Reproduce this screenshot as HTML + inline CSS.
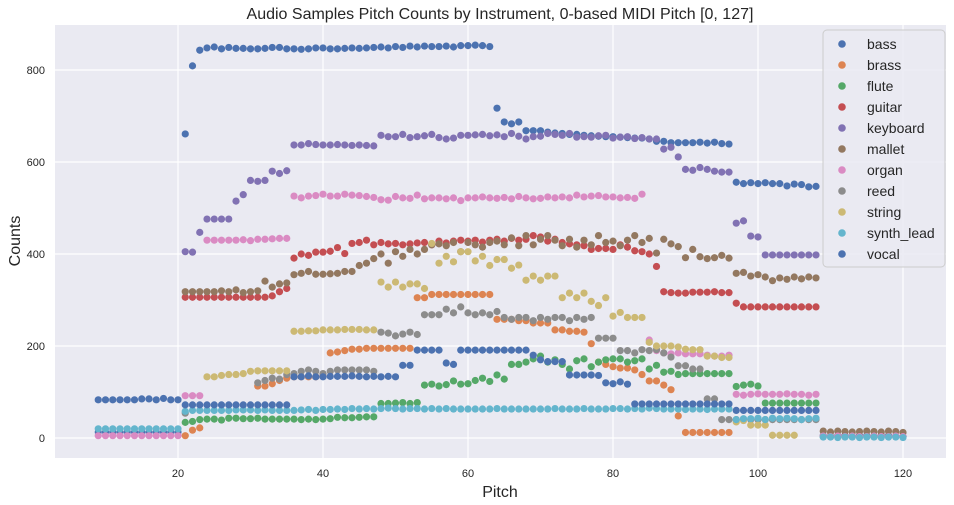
<!DOCTYPE html>
<html><head><meta charset="utf-8"><style>
body{margin:0;background:#fff;}
svg{display:block;font-family:"Liberation Sans",sans-serif;}
</style></head><body>
<svg id="chart" width="954" height="505">
<rect x="55" y="25" width="891" height="433" fill="#EAEAF2"/>
<g id="grid"></g>
<g id="ticks"></g>
<g id="marks"></g>
<text x="500" y="19" text-anchor="middle" font-size="16" fill="#262626">Audio Samples Pitch Counts by Instrument, 0-based MIDI Pitch [0, 127]</text>
<text x="500" y="497" text-anchor="middle" font-size="16" fill="#262626">Pitch</text>
<text x="20" y="241" text-anchor="middle" font-size="16" fill="#262626" transform="rotate(-90 20 241)">Counts</text>
<g id="legend"></g>
</svg>
<script>
const xTicks=[20,40,60,80,100,120];
const yTicks=[0,200,400,600,800];
const names=["bass","brass","flute","guitar","keyboard","mallet","organ","reed","string","synth_lead","vocal"];
const colors=["#4C72B0","#DD8452","#55A868","#C44E52","#8172B3","#937860","#DA8BC3","#8C8C8C","#CCB974","#64B5CD","#4C72B0"];
const bass=[[9,[13,13,13,13,13,13,13,13,13,13,13,13]],[21,[661,809,843]],[24,[848,850,846,849,847,847,846,846,847,849,849,846,846,845,846,848,848,846,846,847,848,847,848,849,850,848,851,849,852,850,852,851,851,852,850,853,853,854,853,851]],[64,[717,687,683,687,668,668,668,665,663,662,660,660,658,657,656,655,655,654,653,652,652]],[85,[650,645,645,642,642,642,642,643,641,643,640,639]],[97,[556,553,555,553,555,553,553,548,552,551,546,547]],[109,[5,4,5,5,4,5,5,4,5,5,4,3]]];
const brass=[[21,[5,17,22]],[31,[113,113,118,125,130,133,133,133,133,135]],[41,[185,187,190,193,193,195,195,195,195,195,195,195]],[53,[305,305,312,312,312,312,312,312,312,312,312]],[64,[258,258,258,255,255,250,250,250,235,235,232,232,230,205]],[78,[165,160,155,152,152,148,138,124,124,115,105,48]],[90,[12,12,12,12,12,12,12]]];
const flute=[[21,[34,36,40,41,41,39,43,43,42,42,43,41,41,41,41]],[36,[41,40,41,40,41,42,45,44,44,45,46,46]],[48,[75,75,76,77,75,77,115,117,113,116,124,117,118,125,130,123,137,128]],[66,[160,160,165,172,178,165,170,160,150,168,172,155,165,170,172,172,165,168,172]],[85,[150,158,143,145,138,140,140,140,140,140,140,140]],[97,[112,115,117,113,76,76,76,76,76,76,76,76]],[109,[3,3,3,3,3,3,3,3,3,3,3,3]]];
const guitar=[[21,[306,306,306,306,306,306,306,306,306,306,306,306,309,318,325]],[36,[391,400,397,404,404,406,414,401,423,425,430,420]],[48,[425,422,423,420,422,424,425,420,428,424,428,430,428,430,426,430,432,428,434,430,432,440,437,428,432,425,422,420,418,410,412,412,410,420,415,407,405]],[85,[400,373,318,316,315,315,317,317,317,318,316,316]],[97,[293,285,285,285,285,285,285,285,285,285,285,285]]];
const keyboard=[[21,[405,404,447,476,476,476,476,515,529,560,558,560,580,575,581]],[36,[637,637,640,638,637,637,638,637,636,637,636,635]],[48,[658,655,655,660,653,655,657,660,653,650,652,658,658,659,660,657,659,655,662,656,650,655,656,662,660,658,662,654,655,654,657,658,652,654,655,651,653,650,650]],[87,[628,632,611,584,582,588,584,580,578,578]],[97,[467,472,439,437,398,398,398,398,398,398,398,398]]];
const mallet=[[21,[318,318,318,318,318,320,318,322,316,318,320,341,328,335,337]],[36,[355,358,362,356,356,357,358,362,362,375,380,390]],[48,[400,380,405,395,410,400,410,420,422,418,425,405,425,420,415,425,428,420,435,418,440,420,432,440,430,418,432,415,430,420,440,425,428,418,430,440,425]],[85,[434,402,432,422,416,392,410,394,390,392,397,391]],[97,[358,360,352,355,350,342,348,345,350,346,350,348]],[109,[15,13,15,14,13,14,15,14,13,15,14,12]]];
const organ=[[9,[5,5,5,5,5,5,5,5,5,5,5,5]],[21,[92,92,92]],[24,[430,430,430,430,430,431,429,432,432,433,434,434]],[36,[526,522,526,527,530,526,526,530,528,527,525,523,518,517,525,522,521,528,520,522,522,520,522,516,522,522,524,522,521,523,520,525,522,520,521,524,522,524,522,528,524,526,527,524,524,522,523,521,530]],[85,[213,190,185,183,185,183,183,183,180,178,178,180]],[97,[95,93,95,96,95,95,95,96,95,95,93,95]],[109,[4,3,4,3,4,3,3,4,3,3,4,3]]];
const reed=[[21,[54]],[31,[120,125,130,128,138,140,145,148,145,140,145,148,148,148,148,148,145]],[48,[230,228,222,226,230,225,268,268,268,280,272,285,272,268,272,268,275]],[65,[262,258,262,262,255,262,258,262,262,255,262,258,262,217,217,217]],[81,[190,190,185,192,190,192,185,176,157,157,150,150,85,85]],[95,[40,40,40,40,40,40,40,40,40,40,40,40,40,40]]];
const string=[[24,[133,133,136,138,138,140,145,146,146,146,146,146]],[36,[232,232,233,233,235,235,235,236,236,236,235,235]],[48,[339,328,339,328,335,335,325,423,380,395,383,405,405,385,395,375,388,388,369,376,343,352,343,352,352]],[73,[305,315,305,315,297,288,305,265,273,262,262,262]],[85,[208,200,200,200,198,193,192,192,178,178,175,175]],[97,[35,38,28,28,28,6,6,6,6]]];
const synth=[[9,[20,20,20,20,20,20,20,20,20,20,20,20]],[21,[58,60,60,60,60,60,60,61,61,61,60,61,60,60,60,60,61,62,60,62,62,63,62,64,63,64,63,64,65,64,63,64,64,63,64,63,64,63,63,63,63,63,63,64,63,63,63,63,63,63,63,64,63,63,63,64,63,63,63,64,64,63,64,63,65,64,63,63,63,62,63,63,62,63,63,63]],[97,[40,42,42,43,40,43,42,43,42,40,42,43]],[109,[2,2,1,2,2,1,2,2,1,2,2,1]]];
const vocal=[[9,[83,83,83,83,83,83,85,85,83,86,83,83]],[21,[72,72,72,72,72,72,72,72,72,72,72,72,72,72,72]],[36,[133,133,135,133,133,134,134,134,135,134,133,134,133,134,133,158,158,191,191,191,191,163,160]],[59,[191,191,191,191,191,191,191,191,191,191,180,170,166,166,166,137,137,137,137,136,120,118]],[81,[122,117,74,74,74,74,74,74,74,74,74,74,74,74,74,74]],[97,[60,60,60,60,60,60,60,60,60,60,60,60]]];
const seriesData=[bass,brass,flute,guitar,keyboard,mallet,organ,reed,string,synth,vocal];

const NS="http://www.w3.org/2000/svg";
const X0=55,X1=946,Y0=25,Y1=458;
function xs(p){return 33+7.25*p;}
function ys(c){return 438-0.46*c;}
function mk(tag,attrs,parent){const e=document.createElementNS(NS,tag);for(const k in attrs)e.setAttribute(k,attrs[k]);parent.appendChild(e);return e;}
const grid=document.getElementById('grid'),ticks=document.getElementById('ticks');
xTicks.forEach(t=>{
 const l=mk('line',{x1:xs(t),x2:xs(t),y1:Y0,y2:Y1,stroke:'#fff','stroke-width':1.2},grid);
 
 
 const tx=mk('text',{x:xs(t),y:477,'text-anchor':'middle','font-size':11,fill:'#262626'},ticks);
 tx.textContent=t;
 
 
});
yTicks.forEach(t=>{
 const l=mk('line',{x1:X0,x2:X1,y1:ys(t),y2:ys(t),stroke:'#fff','stroke-width':1.2},grid);
 
 
 const tx=mk('text',{x:45,y:ys(t)+4,'text-anchor':'end','font-size':11,fill:'#262626'},ticks);
 tx.textContent=t;
 
 
});
const marks=document.getElementById('marks');
seriesData.forEach((segs,si)=>{
 const g=mk('g',{fill:colors[si]},marks);
 
 
 segs.forEach(seg=>{
  seg[1].forEach((v,i)=>{
   if(v===null)return;
   const c=mk('circle',{cx:xs(seg[0]+i),cy:ys(v),r:3.6},g);
   
   
  });
 });
});
const lg=document.getElementById('legend');
const box=mk('rect',{x:823,y:30,width:122,height:237,rx:4,fill:'#EAEAF2','fill-opacity':0.85,stroke:'#cccccc'},lg);


names.forEach((n,i)=>{
 const y=44+21*i;
 const c=mk('circle',{cx:842,cy:y,r:3.8,fill:colors[i]},lg);
 
 
 const t=mk('text',{x:867,y:y+5,'font-size':14,fill:'#262626'},lg);
 t.textContent=n;
 
 
});
</script>
</body></html>
